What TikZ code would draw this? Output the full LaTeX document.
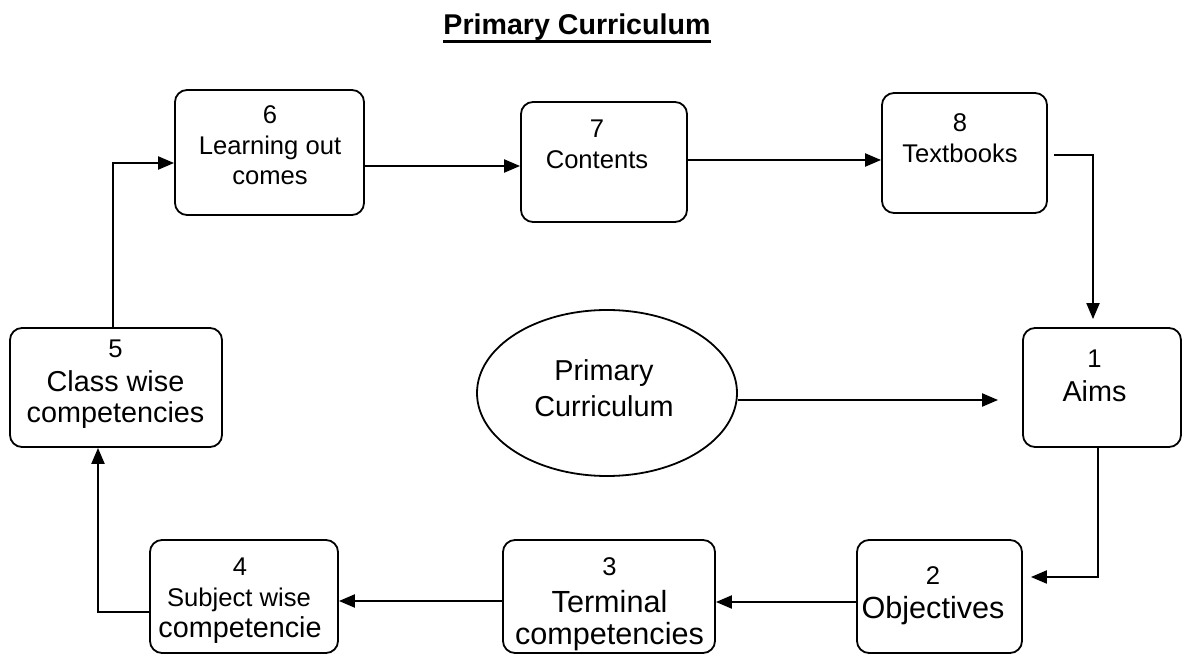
\documentclass[tikz,border=0pt]{standalone}
\usepackage{fontspec}
\setmainfont{Liberation Sans}
\usetikzlibrary{arrows.meta,shapes.geometric}
\begin{document}
\begin{tikzpicture}[x=0.5pt,y=-0.5pt,
  box/.style={draw, line width=0.9pt, rounded corners=6pt, inner sep=0pt},
  lbl/.style={anchor=base, inner sep=0pt},
  sm/.style={lbl, font=\fontsize{12.8}{15}\selectfont},
  lg/.style={lbl, font=\fontsize{14.4}{17}\selectfont},
  xl/.style={lbl, font=\fontsize{15.3}{18}\selectfont},
  arr/.style={line width=1pt, -{Triangle[length=8pt,width=6.5pt]}}]
\useasboundingbox (0,0) rectangle (1184,657);
% title
\node[lbl, font=\fontsize{14.3}{17}\bfseries] (title) at (577,35) {Primary Curriculum};
\draw[line width=1.4pt] (title.south west) -- (title.south east);
% boxes
\node[box, minimum width=94.5pt, minimum height=62.5pt] (b6) at (269.5,152.5) {};
\node[box, minimum width=83pt, minimum height=60pt] (b7) at (604,162) {};
\node[box, minimum width=82.5pt, minimum height=60pt] (b8) at (964.5,153) {};
\node[box, minimum width=79pt, minimum height=59.5pt] (b1) at (1102,387.5) {};
\node[box, minimum width=106pt, minimum height=59.5pt] (b5) at (116,387.5) {};
\node[box, minimum width=94pt, minimum height=56.5pt] (b4) at (244,596.5) {};
\node[box, minimum width=106pt, minimum height=56.5pt] (b3) at (609,596.5) {};
\node[box, minimum width=82.5pt, minimum height=56.5pt] (b2) at (939.5,596.5) {};
\node[draw, line width=0.9pt, ellipse, inner sep=0pt, minimum width=130pt, minimum height=83pt] (e) at (607,393) {};
% texts
\node[sm] (t6a) at (270,124) {6};
\node[sm] (t6b) at (270,155) {Learning out};
\node[sm] (t6c) at (270,185) {comes};
\node[sm] (t7a) at (597,138) {7};
\node[sm] (t7b) at (597,169) {Contents};
\node[sm] (t8a) at (960,132) {8};
\node[sm] (t8b) at (960,163) {Textbooks};
\node[sm] (t1a) at (1094.5,368) {1};
\node[lg] (t1b) at (1094.5,402) {Aims};
\node[sm] (t5a) at (115.5,358) {5};
\node[lg] (t5b) at (115.5,392) {Class wise};
\node[lg] (t5c) at (115.5,423) {competencies};
\node[sm] (t4a) at (240,575) {4};
\node[sm] (t4b) at (239,607) {Subject wise};
\node[lg] (t4c) at (240,638) {competencie};
\node[sm] (t3a) at (609.5,575) {3};
\node[xl] (t3b) at (609.5,612) {Terminal};
\node[xl] (t3c) at (609.5,644) {competencies};
\node[sm] (t2a) at (933,585) {2};
\node[xl] (t2b) at (933,618) {Objectives};
\node[lg] (tea) at (604,381) {Primary};
\node[lg] (teb) at (604,417) {Curriculum};
% connectors
\draw[arr] ([xshift=-1.5pt]b5.north) |- ([yshift=-5.25pt]b6.west);
\draw[arr] ([yshift=-6.75pt]b6.east) -- ([yshift=-2pt]b7.west);
\draw[arr] ([yshift=1pt]b7.east) -- ([yshift=-3.5pt]b8.west);
\draw[arr, shorten >=4pt] ([xshift=3pt,yshift=-1pt]b8.east) -| ([xshift=-4.5pt]b1.north);
\draw[arr, shorten >=12pt] ([yshift=-3.5pt]e.east) -- ([yshift=-6.25pt]b1.west);
\draw[arr, shorten >=4pt] ([xshift=-2pt]b1.south) |- ([yshift=9.75pt]b2.east);
\draw[arr] ([yshift=-2.75pt]b2.west) -- ([yshift=-2.75pt]b3.east);
\draw[arr] ([yshift=-2.25pt]b3.west) -- ([yshift=-2.25pt]b4.east);
\draw[arr] ([yshift=-7.75pt]b4.west) -| ([xshift=-9pt]b5.south);
\end{tikzpicture}
\end{document}
